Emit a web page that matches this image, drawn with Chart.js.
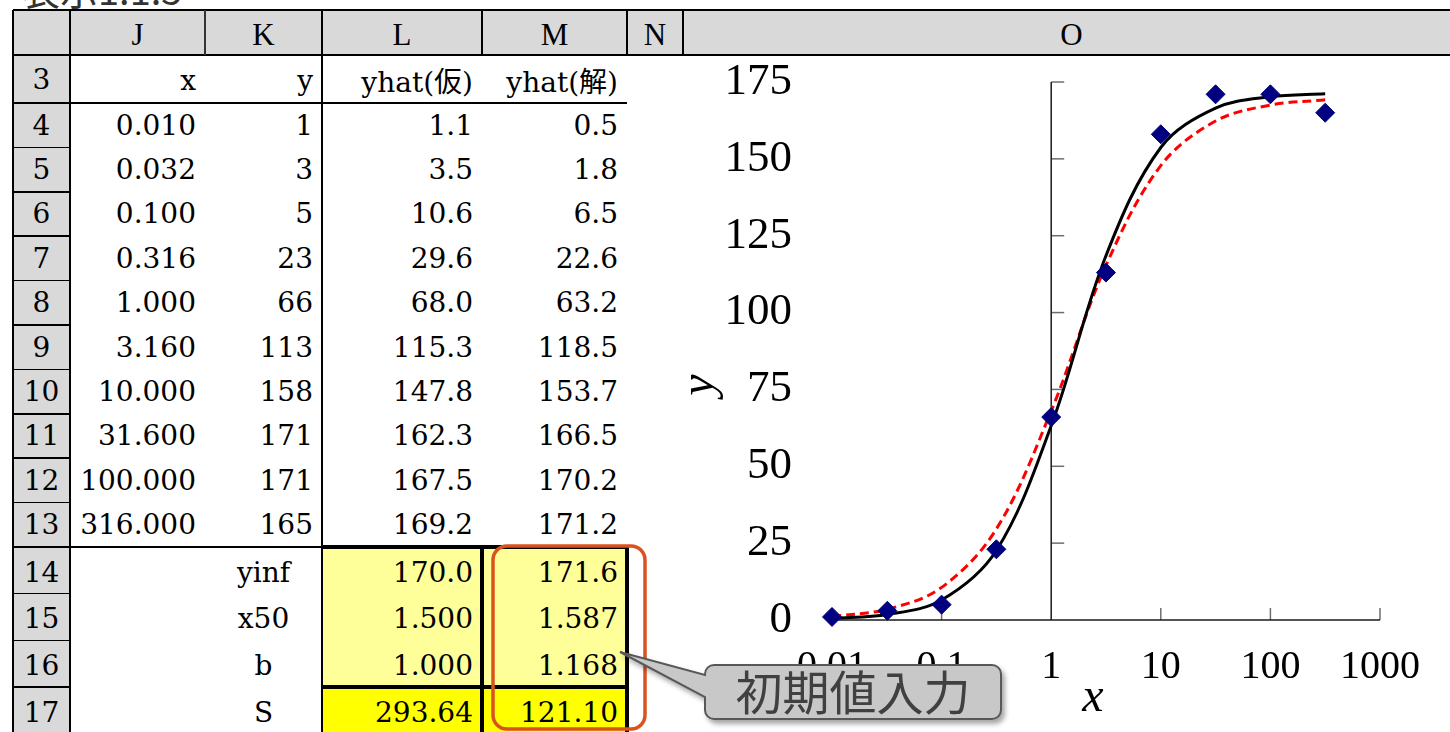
<!DOCTYPE html>
<html>
<head>
<meta charset="utf-8">
<title>Logistic fit</title>
<script src="https://cdn.jsdelivr.net/npm/chart.js@4.4.1/dist/chart.umd.min.js"></script>
<style>
  html, body { margin: 0; padding: 0; background: #fff; }
  body { width: 1450px; height: 732px; overflow: hidden; position: relative; }
  #sheet { position: absolute; left: 0; top: 0; width: 1450px; height: 732px; }
  .cell { position: absolute; display: flex; align-items: center; box-sizing: border-box;
          font-family: "DejaVu Serif", serif; font-size: 28px; color: #000; white-space: nowrap; }
  .r { justify-content: flex-end; padding-right: 9px; }
  .c { justify-content: center; }
  .hdr { font-family: "Liberation Serif", serif; font-size: 31px; padding-top: 4px; }
  .ln { position: absolute; }
  #caption { position: absolute; left: 22px; top: -30px; font-family: "Noto Sans CJK JP", sans-serif;
             font-size: 38px; line-height: 38px; color: #333; white-space: nowrap; }
  #plot { position: absolute; left: 683px; top: 58px; }
  #notes { position: absolute; left: 0; top: 0; pointer-events: none; }
</style>
</head>
<body>
<div id="sheet"></div>
<div id="caption">表示1.1.5</div>
<canvas id="plot" width="767" height="674"></canvas>
<svg id="notes" width="1450" height="732" xmlns="http://www.w3.org/2000/svg">
  <defs>
    <filter id="shadow" x="-10%" y="-20%" width="130%" height="160%">
      <feDropShadow dx="3" dy="4" stdDeviation="2.5" flood-color="#000" flood-opacity="0.35"/>
    </filter>
  </defs>
  <rect x="493" y="546" width="152" height="183" rx="14" ry="14" fill="none" stroke="#d9531e" stroke-width="3.5"/>
  <path filter="url(#shadow)" fill="#c8c8c8" stroke="#595959" stroke-width="2"
        d="M714 665 H992 A9 9 0 0 1 1001 674 V710 A9 9 0 0 1 992 719 H714 A9 9 0 0 1 705 710 V697 L620 652 L705 675 V674 A9 9 0 0 1 714 665 Z"/>
  <text x="853" y="710" text-anchor="middle" font-family="Noto Sans CJK JP" font-size="47" fill="#404040">初期値入力</text>
</svg>

<script>
// ---- worksheet contents ----
const colLetters = ['J', 'K', 'L', 'M', 'N', 'O'];
const rowNumbers = [3, 4, 5, 6, 7, 8, 9, 10, 11, 12, 13, 14, 15, 16, 17];
const headerLabels = ['x', 'y', 'yhat(仮)', 'yhat(解)'];

// observations
const xVals = [0.010, 0.032, 0.100, 0.316, 1.000, 3.160, 10.000, 31.600, 100.000, 316.000];
const yObs = [1, 3, 5, 23, 66, 113, 158, 171, 171, 165];
// fitted values: initial guess and solved parameters
const yhatTemp = [1.1, 3.5, 10.6, 29.6, 68.0, 115.3, 147.8, 162.3, 167.5, 169.2];
const yhatSol = [0.5, 1.8, 6.5, 22.6, 63.2, 118.5, 153.7, 166.5, 170.2, 171.2];

// parameter block
const paramNames = ['yinf', 'x50', 'b', 'S'];
const paramTemp = [170.0, 1.500, 1.000, 293.64];
const paramSol = [171.6, 1.587, 1.168, 121.10];
const paramDigits = [1, 3, 3, 2];

// chart axes
const xTickVals = [0.01, 0.1, 1, 10, 100, 1000];
const xTickLabels = ['0.01', '0.1', '1', '10', '100', '1000'];
const yTickVals = [0, 25, 50, 75, 100, 125, 150, 175];
const yTickLabels = ['0', '25', '50', '75', '100', '125', '150', '175'];
const xTitle = 'x';
const yTitle = 'y';
const yAxisCrossAt = 1;

// ---- grid geometry ----
const colEdges = [13, 70, 205, 322, 482, 627, 683, 1460];
const headTop = 10, headBottom = 55;
const rowEdges = [55, 103];
for (let i = 1; i <= 10; i++) rowEdges.push(103 + i * 44.4);
rowEdges.push(593.7, 640.3, 687, 733);

const sheet = document.getElementById('sheet');
function box(x1, y1, x2, y2, text, cls, style) {
  const d = document.createElement('div');
  d.className = 'cell ' + (cls || '');
  Object.assign(d.style, { left: x1 + 'px', top: y1 + 'px', width: (x2 - x1) + 'px', height: (y2 - y1) + 'px' }, style || {});
  d.textContent = text;
  sheet.appendChild(d);
  return d;
}
function hl(x1, x2, y, w, c) {
  const d = document.createElement('div');
  d.className = 'ln';
  Object.assign(d.style, { left: x1 + 'px', top: (y - w / 2) + 'px', width: (x2 - x1) + 'px', height: w + 'px', background: c || '#000' });
  sheet.appendChild(d);
}
function vl(x, y1, y2, w, c) {
  const d = document.createElement('div');
  d.className = 'ln';
  Object.assign(d.style, { left: (x - w / 2) + 'px', top: y1 + 'px', width: w + 'px', height: (y2 - y1) + 'px', background: c || '#000' });
  sheet.appendChild(d);
}

const gray = '#d9d9d9', paleYellow = '#ffff99', yellow = '#ffff00';

// column header band
box(colEdges[0], headTop, colEdges[colEdges.length - 1], headBottom, '', '', { background: gray });
colLetters.forEach((L, i) => box(colEdges[i + 1], headTop, colEdges[i + 2], headBottom, L, 'c hdr'));

// row header column
rowNumbers.forEach((n, i) => {
  box(colEdges[0], rowEdges[i], colEdges[1], rowEdges[i + 1], String(n), 'c',
      { background: gray, paddingTop: i >= 11 ? '4px' : '0px' });
});

// row 3 labels
headerLabels.forEach((t, i) => box(colEdges[i + 1], rowEdges[0], colEdges[i + 2], rowEdges[1], t, 'r',
  { fontFamily: '"DejaVu Serif", "Noto Sans CJK JP", serif', paddingTop: '2px' }));

// rows 4-13
xVals.forEach((x, i) => {
  const t = rowEdges[i + 1], b = rowEdges[i + 2];
  box(colEdges[1], t, colEdges[2], b, x.toFixed(3), 'r');
  box(colEdges[2], t, colEdges[3], b, String(yObs[i]), 'r');
  box(colEdges[3], t, colEdges[4], b, yhatTemp[i].toFixed(1), 'r');
  box(colEdges[4], t, colEdges[5], b, yhatSol[i].toFixed(1), 'r');
});

// rows 14-17: parameters
paramNames.forEach((p, k) => {
  const t = rowEdges[11 + k], b = rowEdges[12 + k];
  const fill = k === 3 ? yellow : paleYellow;
  box(colEdges[2], t, colEdges[3], b, p, 'c', { paddingTop: '4px' });
  box(colEdges[3], t, colEdges[4], b, paramTemp[k].toFixed(paramDigits[k]), 'r', { background: fill, paddingTop: '4px' });
  box(colEdges[4], t, colEdges[5], b, paramSol[k].toFixed(paramDigits[k]), 'r', { background: fill, paddingTop: '4px' });
});

// borders
hl(colEdges[0], 1450, headTop, 2.5);
hl(colEdges[0], 1450, headBottom, 2.5);
for (let i = 1; i < rowEdges.length - 1; i++) hl(colEdges[0], colEdges[1], rowEdges[i], 1.6);
hl(colEdges[1], colEdges[5], rowEdges[1], 2);           // underline of row 3
hl(colEdges[1], colEdges[3], rowEdges[11], 2);          // bottom of J13:K13
hl(colEdges[3], colEdges[5], rowEdges[11], 3.2);        // top of parameter block
hl(colEdges[3], colEdges[5], rowEdges[14], 3.2);        // top of S row
vl(colEdges[0], headTop, 732, 2.6);
vl(colEdges[1], headTop, 732, 2.6);
vl(colEdges[2], headTop, headBottom, 1.5, '#333');
vl(colEdges[3], headTop, 732, 2.6);
vl(colEdges[4], headTop, headBottom, 2);
vl(colEdges[4], rowEdges[11], 732, 3.2);
vl(colEdges[5], headTop, headBottom, 2.6);
vl(colEdges[5], rowEdges[11], 732, 3.2);
vl(colEdges[6], headTop, headBottom, 2.6);

// ---- chart ----
// axes crossing at x = 1 and y = 0, with inward tick marks
const crossAxes = {
  id: 'crossAxes',
  beforeDatasetsDraw(chart) {
    const { ctx, scales: { x, y } } = chart;
    const x0 = x.getPixelForValue(yAxisCrossAt);
    const y0 = y.getPixelForValue(0);
    const seg = (ax, ay, bx, by) => { ctx.beginPath(); ctx.moveTo(ax, ay); ctx.lineTo(bx, by); ctx.stroke(); };
    ctx.save();
    ctx.lineWidth = 1.5;
    ctx.strokeStyle = '#6e6e6e';
    y.ticks.forEach(t => { if (t.value !== 0) { const py = y.getPixelForValue(t.value); seg(x0, py, x0 + 13, py); } });
    x.ticks.forEach(t => { if (t.value !== yAxisCrossAt) { const px = x.getPixelForValue(t.value); seg(px, y0, px, y0 - 12); } });
    ctx.strokeStyle = '#1a1a1a';
    seg(x.left, y0, x.right, y0);
    seg(x0, y.getPixelForValue(y.max), x0, y0);
    ctx.restore();
  },
  afterDraw(chart) {
    const { ctx, chartArea: a } = chart;
    ctx.save();
    ctx.fillStyle = '#000';
    ctx.font = 'italic 48px "Liberation Serif"';
    ctx.textAlign = 'center';
    ctx.textBaseline = 'middle';
    ctx.fillText(xTitle, (a.left + a.right) / 2 - 13, chart.height - 34);
    ctx.translate(17, (a.top + a.bottom) / 2 + 34);
    ctx.rotate(-Math.PI / 2);
    ctx.fillText(yTitle, 0, 0);
    ctx.restore();
  }
};

const pts = vals => xVals.map((x, i) => ({ x, y: vals[i] }));

// the gap between labels and plot comes from invisible tick marks,
// so that label spacing does not push the plot edges inward
const hiddenTicks = len => ({ display: true, drawOnChartArea: false, drawTicks: true, tickLength: len, color: 'rgba(0,0,0,0)' });

new Chart(document.getElementById('plot'), {
  type: 'scatter',
  data: {
    datasets: [
      { label: 'y', data: pts(yObs), pointStyle: 'rectRot', pointRadius: 9.5, borderWidth: 1,
        backgroundColor: '#000080', borderColor: '#000080', showLine: false, clip: false },
      { label: 'yhat(解)', data: pts(yhatSol), showLine: true, borderColor: '#000', borderWidth: 3,
        pointRadius: 0, tension: 0.35, fill: false, clip: false },
      { label: 'yhat(仮)', data: pts(yhatTemp), showLine: true, borderColor: '#ff0000', borderWidth: 3,
        borderDash: [9, 5], pointRadius: 0, tension: 0.35, fill: false, clip: false }
    ]
  },
  options: {
    responsive: false,
    animation: false,
    events: [],
    layout: { padding: { left: 0, right: 70, top: 24, bottom: 0 } },
    plugins: { legend: { display: false }, tooltip: { enabled: false } },
    scales: {
      x: {
        type: 'logarithmic', position: 'bottom', min: xTickVals[0], max: xTickVals[xTickVals.length - 1],
        grid: hiddenTicks(23), border: { display: false },
        afterBuildTicks: s => { s.ticks = xTickVals.map(v => ({ value: v })); },
        afterFit: s => { s.height = 112; },
        ticks: { autoSkip: false, maxRotation: 0, padding: 0, color: '#000',
                 font: { family: '"Liberation Serif"', size: 40 },
                 callback: (v, i) => xTickLabels[i] }
      },
      y: {
        type: 'linear', position: 'left', min: yTickVals[0], max: yTickVals[yTickVals.length - 1],
        grid: hiddenTicks(40), border: { display: false },
        afterBuildTicks: s => { s.ticks = yTickVals.map(v => ({ value: v })); },
        afterFit: s => { s.width = 149; },
        ticks: { padding: 0, color: '#000',
                 font: { family: '"Liberation Serif"', size: 45, lineHeight: 1 },
                 callback: (v, i) => yTickLabels[i] }
      }
    }
  },
  plugins: [crossAxes]
});
</script>
</body>
</html>
